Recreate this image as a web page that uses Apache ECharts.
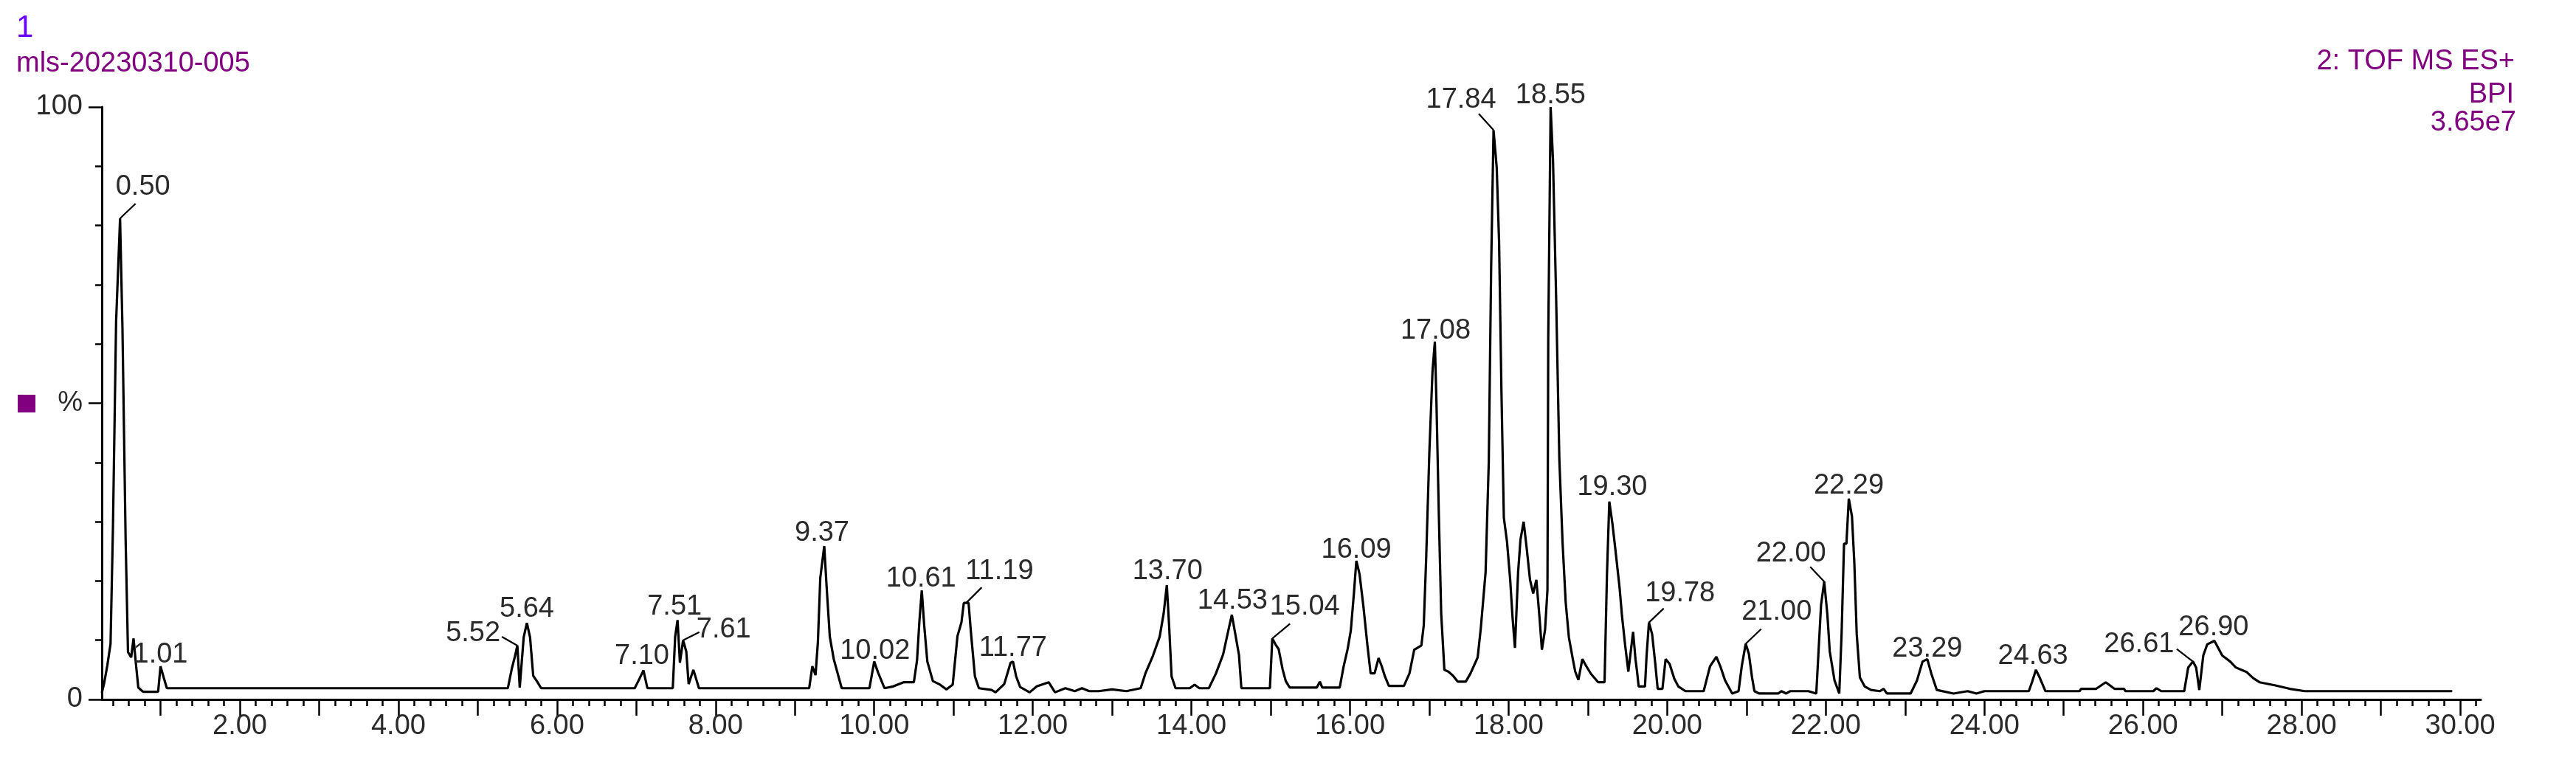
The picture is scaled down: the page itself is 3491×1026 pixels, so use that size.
<!DOCTYPE html>
<html>
<head>
<meta charset="utf-8">
<script src="https://cdn.jsdelivr.net/npm/echarts@6/dist/echarts.min.js"></script>
<style>
html,body{margin:0;padding:0;background:#ffffff;}
#chart{width:3491px;height:1026px;}
</style>
</head>
<body>
<div id="chart"></div>
<script>
// ---------- DATA ----------
const times = [
0.26,0.29,0.33,0.37,0.40,0.44,0.49,0.52,0.56,0.59,0.63,0.66,0.69,0.72,0.78,0.97,1.00,1.04,1.08,
5.38,5.43,5.47,5.50,5.53,5.58,5.62,5.66,5.70,5.75,5.80,
6.98,7.04,7.09,7.14,7.46,7.49,7.52,7.55,7.59,7.63,7.66,7.72,7.79,
9.18,9.22,9.26,9.29,9.32,9.37,9.40,9.44,9.49,9.59,
9.94,10.00,10.05,10.13,10.24,10.37,10.50,10.54,10.57,10.60,10.63,10.67,10.74,10.83,10.91,10.99,
11.05,11.10,11.13,11.19,11.22,11.27,11.32,11.48,11.53,11.64,11.72,11.75,11.79,11.84,11.96,
12.05,12.20,12.28,12.41,12.53,12.62,12.71,12.83,13.00,13.18,13.36,13.42,13.51,13.60,13.65,13.69,13.72,13.75,13.80,
13.98,14.04,14.10,14.22,14.31,14.40,14.46,14.51,14.55,14.60,14.63,
14.99,15.02,15.06,15.10,15.15,15.19,15.24,15.58,15.62,15.65,15.87,15.92,15.97,16.01,16.05,16.08,16.12,16.17,16.22,16.26,16.31,16.36,16.40,16.44,16.49,
16.68,16.75,16.81,16.90,16.93,16.96,17.00,17.04,17.07,17.09,17.12,17.15,17.19,17.24,17.30,17.36,17.46,17.52,17.61,17.65,17.71,17.75,17.78,17.81,17.85,17.88,17.91,17.94,17.98,
18.02,18.05,18.08,18.12,18.15,18.19,18.23,18.27,18.31,18.35,18.39,18.42,18.46,18.49,18.50,18.53,18.56,18.60,18.64,18.68,18.72,18.76,18.81,18.84,18.88,18.93,18.98,
19.04,19.13,19.21,19.24,19.27,19.31,19.35,19.40,19.43,19.47,19.51,19.57,19.60,19.62,19.64,19.72,19.74,19.77,19.81,19.85,19.88,19.94,19.98,
20.03,20.09,20.14,20.23,20.46,20.54,20.62,20.67,20.73,20.82,20.90,20.94,20.99,21.03,21.07,21.10,21.16,21.40,21.44,21.50,21.55,21.78,21.88,21.91,21.94,21.98,
22.02,22.05,22.11,22.17,22.20,22.23,22.26,22.29,22.33,22.36,22.39,22.43,22.49,22.57,22.68,22.73,22.77,23.07,23.15,23.22,23.28,23.33,23.40,23.61,23.79,23.90,
24.00,24.56,24.60,24.65,24.69,24.77,25.20,25.22,25.41,25.53,25.64,25.76,25.78,26.13,26.17,26.23,26.52,26.57,26.63,26.67,26.71,26.76,26.81,26.90,
27.00,27.10,27.17,27.31,27.39,27.47,27.66,27.85,28.04,29.90
];
const intensities = [
1.1,2.8,5.8,9.4,28.9,63.8,81.2,62.8,27.0,8.0,7.1,10.3,6.0,2.0,1.3,1.3,5.6,3.7,1.9,
1.9,5.2,7.3,9.1,2.0,10.5,12.9,10.5,4.0,3.0,1.9,
1.9,3.5,4.9,1.9,1.9,10.6,13.4,6.2,10.0,8.1,2.6,5.0,1.9,
1.9,5.6,4.1,9.7,20.5,25.9,19.0,10.6,6.8,1.9,
1.9,6.4,4.5,1.9,2.2,2.9,2.9,6.6,13.2,18.4,12.6,6.4,3.1,2.5,1.7,2.5,
10.7,13.0,16.3,16.3,11.3,3.9,1.9,1.6,1.2,2.6,6.2,6.4,3.9,2.1,1.2,
2.2,2.9,1.2,1.9,1.4,1.9,1.4,1.4,1.7,1.4,1.9,4.4,7.2,10.6,14.5,19.3,12.2,3.9,1.9,
1.9,2.5,1.9,1.9,4.4,7.6,11.3,14.3,11.3,7.5,1.9,
1.9,10.3,9.3,8.5,5.1,3.1,2.0,2.0,3.0,2.0,2.0,5.6,8.5,11.6,18.0,23.4,21.2,15.6,9.1,4.4,4.4,7.0,5.6,3.9,2.3,
2.3,4.4,8.4,9.1,12.5,23.6,41.5,55.3,60.4,50.3,31.4,14.5,5.0,4.7,4.0,3.0,3.0,4.4,7.1,12.1,21.5,40.1,72.9,96.1,89.8,77.2,51.9,30.7,26.6,
20.2,13.8,8.7,21.5,27.0,30.0,25.3,20.2,17.9,20.2,13.8,8.4,11.8,18.5,61.0,100.0,91.0,67.4,40.5,26.6,16.4,10.5,6.8,4.7,3.3,6.8,5.6,
4.3,2.9,2.9,20.9,33.4,29.6,24.9,18.8,14.1,9.1,4.7,11.4,6.8,4.7,2.2,2.2,7.4,13.0,11.0,6.0,1.8,1.8,6.8,
6.0,3.5,2.2,1.4,1.4,5.6,7.2,5.6,3.2,1.0,1.4,5.6,9.4,7.7,3.7,1.4,1.0,1.0,1.4,1.0,1.4,1.4,1.0,8.5,15.9,19.9,
14.3,8.1,3.2,1.0,11.4,26.3,26.3,33.9,30.9,23.0,11.0,3.7,2.2,1.6,1.4,1.8,1.0,1.0,3.2,6.4,6.8,4.4,1.6,1.0,1.4,1.0,
1.4,1.4,2.9,5.0,3.9,1.4,1.4,1.8,1.8,2.9,1.8,1.8,1.4,1.4,1.9,1.4,1.4,5.4,6.4,5.4,1.6,7.4,9.3,9.9,
7.4,6.4,5.4,4.6,3.6,2.9,2.4,1.8,1.4,1.4
];

// annotated peaks (retention time label, anchor on the trace)
const peakLabels = ['0.50','1.01','5.52','5.64','7.10','7.51','7.61','9.37','10.02','10.61','11.19','11.77',
  '13.70','14.53','15.04','16.09','17.08','17.84','18.55','19.30','19.78','21.00','22.00','22.29','23.29','24.63','26.61','26.90'];
const peakTimes = [0.49,1.00,5.50,5.62,7.09,7.52,7.59,9.37,10.00,10.60,11.16,11.75,
  13.69,14.51,15.02,16.08,17.07,17.81,18.53,19.27,19.77,20.99,21.98,22.29,23.28,24.65,26.63,26.90];
const peakValues = [81.2,5.6,9.1,12.9,4.9,13.4,10.0,25.9,6.4,18.4,16.3,6.4,
  19.3,14.3,10.3,23.4,60.4,96.1,100.0,33.4,13.0,9.4,19.9,33.9,6.8,5.0,6.4,9.9];

// axis tick labels
const xLabelValues = [2,4,6,8,10,12,14,16,18,20,22,24,26,28,30];
const yLabelValues = [0,50,100];
const yLabelTexts = ['0','%','100'];

// header texts
const headerLeft = ['1','mls-20230310-005'];
const headerRight = ['2: TOF MS ES+','BPI','3.65e7'];

// ---------- LAYOUT (pixels, not data) ----------
// [leaderDx, leaderDy, textCenterDx, glyphBottomDy] relative to the anchor point
const labelLayout = [
  [21,-20,31,-29],[0,0,0,-3],[-21,-12,-60,-3],[0,0,0,-6],[0,0,-2,-6],[0,0,-4,-5],[22,-11,55,-1],
  [0,0,-3,-5],[0,0,1,-1],[0,0,-1,-3],[21,-21,45,-30],[0,0,0,-5],
  [0,0,1,-6],[0,0,1,-6],[24,-20,44,-30],[0,0,0,-2],[0,0,1,-1],[-20,-22,-44,-28],[0,0,0,-2],
  [0,0,4,-6],[20,-19,42,-26],[21,-20,42,-30],[-19,-20,-45,-25],[0,0,0,-4],[0,0,0,-1],[0,0,-4,-5],
  [-22,-17,-73,-10],[0,0,-1,-5]
];

const FONT_FAMILY = '"Liberation Sans", Arial, sans-serif';
const FS = 38;
const TEXT_COLOR = '#2a2a2a';
const X_MIN = 0.26, X_MAX = 30.26;

const minorTicks = [];
for (let k = 2; k <= 151; k++) { const v = Math.round(k * 20) / 100; if (Math.abs(v - Math.round(v)) > 1e-6) minorTicks.push(v); }
const majorTicks = [];
for (let k = 1; k <= 30; k++) majorTicks.push(k);

const chart = echarts.init(document.getElementById('chart'), null, {renderer: 'canvas'});

const option = {
  animation: false,
  backgroundColor: '#ffffff',
  grid: {left: 138, right: 129, top: 145, bottom: 78, containLabel: false},
  xAxis: [
    {
      type: 'value', min: X_MIN, max: X_MAX, position: 'bottom',
      axisLine: {show: true, lineStyle: {color: '#000', width: 3}},
      axisTick: {show: true, length: 9, customValues: minorTicks, lineStyle: {color: '#000', width: 2.5}},
      axisLabel: {show: false},
      splitLine: {show: false}
    },
    {
      type: 'value', min: X_MIN, max: X_MAX, position: 'bottom',
      axisLine: {show: false},
      axisTick: {show: true, length: 22, customValues: majorTicks, lineStyle: {color: '#000', width: 2.5}},
      axisLabel: {show: true, customValues: xLabelValues, margin: 18, color: TEXT_COLOR,
        fontFamily: FONT_FAMILY, fontSize: FS, formatter: v => v.toFixed(2)},
      splitLine: {show: false}
    }
  ],
  yAxis: [
    {
      type: 'value', min: 0, max: 100, interval: 10, position: 'left',
      axisLine: {show: true, lineStyle: {color: '#000', width: 3}},
      axisTick: {show: true, length: 9, lineStyle: {color: '#000', width: 2.5}},
      axisLabel: {show: false},
      splitLine: {show: false}
    },
    {
      type: 'value', min: 0, max: 100, interval: 50, position: 'left',
      axisLine: {show: false},
      axisTick: {show: true, length: 18, lineStyle: {color: '#000', width: 2.5}},
      axisLabel: {show: true, margin: 26, color: TEXT_COLOR, fontFamily: FONT_FAMILY, fontSize: FS,
        formatter: v => { const i = yLabelValues.indexOf(v); return i >= 0 ? yLabelTexts[i] : ''; }},
      splitLine: {show: false}
    }
  ],
  series: [
    {
      type: 'line', xAxisIndex: 0, yAxisIndex: 0,
      data: times.map((t, i) => [t, intensities[i]]),
      showSymbol: false, symbol: 'none', silent: true,
      lineStyle: {color: '#000', width: 3.2},
      z: 3
    },
    {
      type: 'custom', xAxisIndex: 0, yAxisIndex: 0, silent: true, z: 4,
      data: peakTimes.map((t, i) => [t, peakValues[i], i]),
      renderItem: function (params, api) {
        const i = api.value(2);
        const p = api.coord([api.value(0), api.value(1)]);
        const L = labelLayout[i];
        const children = [];
        if (L[0] !== 0 || L[1] !== 0) {
          children.push({type: 'line', shape: {x1: p[0], y1: p[1], x2: p[0] + L[0], y2: p[1] + L[1]},
            style: {stroke: '#000', lineWidth: 2.2}});
        }
        children.push({type: 'text', x: p[0] + L[2], y: p[1] + L[3] + 6,
          style: {text: peakLabels[i], fill: TEXT_COLOR, font: FS + 'px ' + FONT_FAMILY,
            align: 'center', verticalAlign: 'bottom'}});
        return {type: 'group', children: children};
      }
    }
  ],
  graphic: [
    {type: 'text', left: 22, top: 17, style: {text: headerLeft[0], fill: '#6a00ff', font: '42px ' + FONT_FAMILY}},
    {type: 'text', left: 22, top: 68, style: {text: headerLeft[1], fill: '#800080', font: FS + 'px ' + FONT_FAMILY}},
    {type: 'text', right: 83, top: 65, style: {text: headerRight[0], fill: '#800080', font: FS + 'px ' + FONT_FAMILY}},
    {type: 'text', right: 84, top: 110, style: {text: headerRight[1], fill: '#800080', font: FS + 'px ' + FONT_FAMILY}},
    {type: 'text', right: 81, top: 148, style: {text: headerRight[2], fill: '#800080', font: FS + 'px ' + FONT_FAMILY}},
    {type: 'rect', left: 24, top: 535, shape: {width: 24, height: 24}, style: {fill: '#800080'}}
  ]
};
chart.setOption(option);
</script>
</body>
</html>
